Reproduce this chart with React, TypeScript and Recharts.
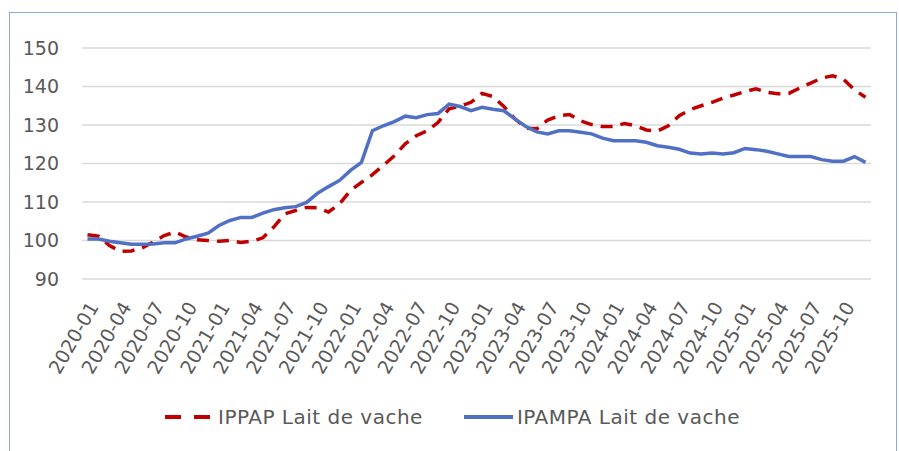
import React from 'react'
import { CartesianGrid, Legend, Line, LineChart, XAxis, YAxis } from 'recharts'

const months: string[] = []
for (let y = 2020; y <= 2025; y++) {
  for (let m = 1; m <= 12; m++) months.push(`${y}-${String(m).padStart(2, '0')}`)
}

const ippap = [
  101.5, 101.1, 98.7, 97.2, 97.3, 98.1, 99.6, 101.3, 102.2, 100.9, 100.2, 100.0,
  99.8, 100.0, 99.5, 99.8, 100.7, 103.5, 106.9, 107.8, 108.6, 108.5, 107.4, 109.5,
  113.0, 115.1, 117.1, 119.5, 122.0, 125.1, 127.2, 128.5, 130.7, 134.2, 134.9, 135.9,
  138.2, 137.4, 134.8, 131.6, 129.2, 129.0, 131.3, 132.4, 132.7, 131.1, 130.1, 129.6,
  129.6, 130.4, 129.8, 128.7, 128.4, 129.8, 132.4, 134.0, 135.0, 135.9, 137.0, 137.8,
  138.7, 139.4, 138.5, 138.1, 138.2, 139.6, 140.9, 142.2, 142.8, 141.9, 139.1, 137.2,
]

const ipampa = [
  100.4, 100.4, 99.8, 99.4, 99.0, 99.0, 99.1, 99.4, 99.4, 100.4, 101.1, 101.9,
  103.9, 105.2, 106.0, 106.0, 107.1, 108.0, 108.5, 108.8, 109.9, 112.3, 114.0, 115.6,
  118.2, 120.3, 128.5, 129.8, 130.9, 132.3, 131.9, 132.7, 133.0, 135.4, 134.8, 133.7,
  134.6, 134.1, 133.7, 131.6, 129.6, 128.2, 127.7, 128.5, 128.5, 128.1, 127.7, 126.6,
  125.9, 125.9, 125.9, 125.5, 124.6, 124.2, 123.7, 122.7, 122.5, 122.7, 122.5, 122.8,
  123.9, 123.6, 123.2, 122.5, 121.8, 121.8, 121.8, 121.0, 120.6, 120.6, 121.8, 120.3,
]

const yTicks = [90, 100, 110, 120, 130, 140, 150]

const data = months.map((m, i) => ({ month: m, ippap: ippap[i], ipampa: ipampa[i] }))

const FONT = '"DejaVu Sans", sans-serif'
const TXT = '#595959'
const RED = '#C00000'
const BLUE = '#5070C4'

function LegendBox() {
  return (
    <div style={{ display: 'flex', alignItems: 'center', paddingLeft: 165, fontFamily: FONT, fontSize: 20, letterSpacing: 0.5, color: TXT }}>
      <svg width={45} height={10} style={{ marginRight: 8 }}>
        <line x1={0} y1={5} x2={45} y2={5} stroke={RED} strokeWidth={4} strokeDasharray="16 13" />
      </svg>
      <span style={{ marginRight: 41 }}>IPPAP Lait de vache</span>
      <svg width={49} height={10} style={{ marginRight: 4 }}>
        <line x1={0} y1={5} x2={49} y2={5} stroke={BLUE} strokeWidth={4} />
      </svg>
      <span>IPAMPA Lait de vache</span>
    </div>
  )
}

export default function App() {
  return (
    <div style={{ position: 'absolute', left: 0, top: 0, width: 899, height: 451, background: '#fff', overflow: 'hidden' }}>
      <div style={{ position: 'absolute', left: 9, top: 12, width: 886, height: 460, border: '1.5px solid #8EA9DB' }} />
      <div style={{ position: 'absolute', left: 0, top: 0 }}>
        <LineChart width={899} height={451} data={data} margin={{ top: 48, right: 28, left: 0, bottom: 0 }}>
          <CartesianGrid vertical={false} stroke="#D9D9D9" strokeWidth={1.5} />
          <XAxis
            dataKey="month"
            interval={2}
            height={172}
            padding={{ left: 5.5, right: 5.5 }}
            axisLine={false}
            tickLine={false}
            tickMargin={15}
            angle={-60}
            textAnchor="end"
            tick={{ fontSize: 19, fill: TXT, fontFamily: FONT }}
          />
          <YAxis
            domain={[90, 150]}
            ticks={yTicks}
            width={82}
            axisLine={false}
            tickLine={false}
            tickMargin={17}
            tick={{ fontSize: 19, fill: TXT, fontFamily: FONT }}
          />
          <Legend
            verticalAlign="middle"
            align="center"
            layout="horizontal"
            wrapperStyle={{ top: 405, left: 0, width: 899 }}
            content={() => <LegendBox />}
          />
          <Line type="linear" dataKey="ippap" stroke={RED} strokeWidth={3.5} strokeDasharray="12 8" dot={false} isAnimationActive={false} />
          <Line type="linear" dataKey="ipampa" stroke={BLUE} strokeWidth={3.5} dot={false} isAnimationActive={false} />
        </LineChart>
      </div>
    </div>
  )
}
